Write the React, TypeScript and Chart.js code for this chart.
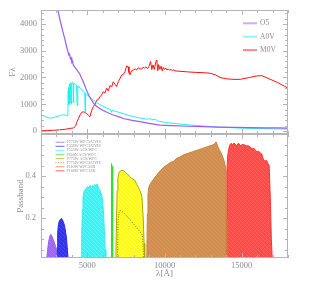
import React, { useEffect, useRef } from 'react';
import { Chart, registerables } from 'chart.js';
Chart.register(...registerables);

// ---------- Top panel: stellar spectra (wavelength in Å, flux) ----------
const waveO5 = [2000, 2300, 2600, 2900, 3000, 3100, 3250, 3400, 3550, 3700, 3800, 3850, 3900, 3950, 4000, 4050, 4100, 4200, 4300, 4400, 4500, 4620, 4740, 4870, 5000, 5120, 5250, 5380, 5500, 5700, 6000, 6300, 6680, 7000, 7400, 7900, 8400, 9000, 9700, 10500, 11500, 12500, 13500, 14500, 15500, 16500, 17300, 18000];
const fluxO5 = [12500, 9600, 7300, 5600, 5000, 4500, 4100, 3750, 3420, 3050, 2850, 2880, 2700, 2740, 2560, 2600, 2450, 2380, 2300, 2220, 2150, 1990, 1840, 1640, 1450, 1310, 1180, 1060, 970, 880, 780, 690, 600, 540, 460, 400, 350, 290, 225, 200, 180, 165, 150, 140, 130, 122, 116, 110];

const waveA0V = [2000, 2150, 2300, 2450, 2600, 2750, 2900, 3050, 3200, 3350, 3500, 3620, 3700, 3740, 3760, 3780, 3800, 3820, 3840, 3860, 3890, 3910, 3940, 3970, 3990, 4030, 4080, 4102, 4130, 4200, 4300, 4340, 4380, 4450, 4550, 4650, 4750, 4830, 4861, 4890, 4950, 5050, 5200, 5400, 5600, 5800, 6000, 6250, 6500, 6563, 6620, 6800, 7100, 7400, 7700, 8000, 8300, 8600, 8900, 9100, 9250, 9400, 9550, 9700, 9900, 10200, 10700, 11200, 12000, 12800, 13400, 14200, 15000, 16000, 17000, 18000];
const fluxA0V = [600, 570, 540, 500, 480, 500, 520, 545, 570, 595, 610, 590, 570, 590, 1500, 980, 1650, 1000, 1720, 1760, 1050, 1780, 1800, 1000, 1810, 1830, 1800, 1050, 1780, 1760, 1720, 950, 1690, 1650, 1600, 1540, 1480, 1430, 700, 1400, 1370, 1320, 1250, 1150, 1060, 990, 930, 860, 800, 700, 780, 740, 690, 640, 580, 540, 500, 470, 440, 460, 420, 440, 380, 360, 340, 310, 280, 250, 210, 175, 150, 130, 110, 95, 85, 75];

const waveM0V = [2000, 2400, 2800, 3200, 3600, 3900, 4100, 4200, 4260, 4310, 4420, 4530, 4640, 4740, 4850, 4960, 5080, 5170, 5280, 5390, 5500, 5610, 5720, 5820, 5930, 6030, 6140, 6250, 6360, 6470, 6580, 6680, 6790, 6900, 7010, 7120, 7230, 7340, 7440, 7550, 7650, 7700, 7760, 7870, 7980, 8100, 8200, 8300, 8400, 8500, 8600, 8700, 8800, 8900, 9000, 9100, 9180, 9250, 9350, 9420, 9500, 9560, 9620, 9700, 9780, 9850, 9920, 10000, 10080, 10160, 10250, 10330, 10420, 10500, 10600, 10680, 11000, 11500, 12000, 12500, 12950, 13300, 13600, 14000, 14500, 14900, 15500, 16000, 16300, 16700, 17300, 18000];
const fluxM0V = [10, 15, 30, 45, 70, 100, 115, 160, 220, 320, 460, 600, 700, 720, 690, 660, 580, 535, 760, 910, 1000, 1150, 1180, 1280, 1350, 1470, 1420, 1600, 1500, 1700, 1650, 1840, 1750, 1660, 1850, 1970, 2090, 2120, 2220, 2430, 2400, 2180, 2100, 2250, 2280, 2320, 2280, 2360, 2340, 2300, 2380, 2350, 2400, 2330, 2420, 2600, 2300, 2470, 2300, 2550, 2650, 2250, 2480, 2300, 2420, 2250, 2380, 2300, 2350, 2280, 2320, 2270, 2300, 2260, 2290, 2250, 2230, 2210, 2190, 2180, 2160, 2100, 2000, 1950, 1930, 1930, 2000, 2060, 2070, 1970, 1820, 1600];

// ---------- Bottom panel: filter passbands ----------
const waveF275W = [2300, 2380, 2430, 2500, 2560, 2630, 2700, 2780, 2860, 2940, 3000, 3040];
const passF275W = [0, 0.01, 0.05, 0.09, 0.11, 0.123, 0.115, 0.1, 0.085, 0.065, 0.04, 0];
const waveF336W = [3000, 3040, 3080, 3130, 3200, 3280, 3340, 3400, 3480, 3560, 3640, 3700, 3760];
const passF336W = [0, 0.06, 0.13, 0.17, 0.188, 0.196, 0.197, 0.19, 0.175, 0.15, 0.11, 0.06, 0];
const waveF555W = [4600, 4640, 4680, 4720, 4780, 4850, 4920, 5000, 5080, 5160, 5240, 5320, 5400, 5480, 5560, 5640, 5720, 5800, 5880, 5960, 6040, 6100, 6160, 6200];
const passF555W = [0, 0.12, 0.24, 0.3, 0.325, 0.335, 0.34, 0.35, 0.345, 0.355, 0.345, 0.355, 0.35, 0.36, 0.352, 0.362, 0.345, 0.335, 0.32, 0.3, 0.24, 0.15, 0.05, 0];
const waveF658N = [6540, 6570, 6590, 6610, 6640];
const passF658N = [0, 0.445, 0.45, 0.445, 0];
const waveF775W = [6850, 6890, 6930, 6980, 7050, 7150, 7250, 7370, 7480, 7600, 7720, 7840, 7960, 8080, 8200, 8320, 8440, 8540, 8620, 8680, 8720];
const passF775W = [0, 0.18, 0.33, 0.39, 0.415, 0.425, 0.428, 0.425, 0.415, 0.41, 0.4, 0.39, 0.385, 0.38, 0.36, 0.345, 0.325, 0.3, 0.2, 0.08, 0];
const waveF775WU = [6950, 7000, 7060, 7120, 7250, 7400, 7550, 7700, 7850, 8000, 8150, 8300, 8450, 8560, 8620, 8660];
const passF775WU = [0, 0.19, 0.228, 0.238, 0.232, 0.222, 0.21, 0.198, 0.185, 0.172, 0.158, 0.145, 0.13, 0.12, 0.06, 0];
const waveF110W = [8850, 8890, 8930, 8980, 9060, 9200, 9400, 9600, 9800, 10000, 10200, 10400, 10600, 10800, 11000, 11200, 11400, 11600, 11800, 12000, 12200, 12400, 12600, 12800, 13000, 13200, 13350, 13450, 13550, 13700, 13850, 13960, 14000, 14040];
const passF110W = [0, 0.22, 0.31, 0.345, 0.36, 0.375, 0.395, 0.415, 0.43, 0.445, 0.455, 0.465, 0.47, 0.485, 0.49, 0.5, 0.505, 0.51, 0.515, 0.52, 0.525, 0.53, 0.535, 0.54, 0.545, 0.55, 0.562, 0.54, 0.525, 0.505, 0.475, 0.44, 0.2, 0];
const waveF160W = [13960, 14000, 14040, 14100, 14180, 14250, 14330, 14420, 14500, 14580, 14660, 14740, 14820, 14900, 15000, 15100, 15200, 15300, 15400, 15500, 15600, 15700, 15800, 15900, 16000, 16100, 16200, 16300, 16400, 16500, 16600, 16700, 16780, 16850, 16920, 16980];
const passF160W = [0, 0.2, 0.42, 0.5, 0.535, 0.55, 0.556, 0.548, 0.557, 0.552, 0.54, 0.553, 0.555, 0.545, 0.548, 0.55, 0.548, 0.543, 0.545, 0.54, 0.535, 0.53, 0.532, 0.522, 0.515, 0.518, 0.51, 0.505, 0.48, 0.47, 0.475, 0.46, 0.45, 0.3, 0.1, 0];

const starNames = ['O5', 'A0V', 'M0V'];
const filterNames = ['F275W WFC3/UVIS', 'F336W WFC3/UVIS', 'F555W ACS/WFC', 'F658N ACS/WFC', 'F775W ACS/WFC', 'F775W WFC3/UVIS', 'F110W WFC3/IR', 'F160W WFC3/IR'];

const xTicks = [5000, 10000, 15000];
const yTicksTop = [0, 1000, 2000, 3000, 4000];
const yTicksBottom = [0.2, 0.4];

const FONT = 'Liberation Serif, DejaVu Serif, serif';
const TEXT = '#8c8c8c';
const FRAME = '#b4b4b4';

const pts = (xs: number[], ys: number[]) => xs.map((x, i) => ({ x, y: ys[i] }));

function hatch(base: string, line: string) {
  const c = document.createElement('canvas');
  c.width = 4; c.height = 4;
  const g = c.getContext('2d')!;
  g.fillStyle = base; g.fillRect(0, 0, 4, 4);
  g.strokeStyle = line; g.lineWidth = 0.8;
  g.beginPath(); g.moveTo(-1, -1); g.lineTo(5, 5); g.stroke();
  return g.createPattern(c, 'repeat');
}

const frameTicks = {
  id: 'frameTicks',
  afterDatasetsDraw(chart: any, _a: any, o: any) {
    const { ctx, chartArea: a, scales } = chart;
    ctx.save();
    ctx.strokeStyle = FRAME; ctx.lineWidth = 1;
    ctx.strokeRect(Math.round(a.left) + 0.5, Math.round(a.top) + 0.5, Math.round(a.width) - 1, Math.round(a.height) - 1);
    const run = (scale: any, minor: number, major: number, horiz: boolean) => {
      const i0 = Math.ceil(scale.min / minor - 1e-9);
      for (let i = i0; i * minor <= scale.max + 1e-9; i++) {
        const v = i * minor;
        const isMajor = Math.abs(v / major - Math.round(v / major)) < 1e-6;
        const len = isMajor ? 5 : 3;
        const p = Math.round(scale.getPixelForValue(v)) + 0.5;
        ctx.beginPath();
        if (horiz) {
          ctx.moveTo(p, a.bottom); ctx.lineTo(p, a.bottom - len);
          ctx.moveTo(p, a.top); ctx.lineTo(p, a.top + len);
        } else {
          ctx.moveTo(a.left, p); ctx.lineTo(a.left + len, p);
          ctx.moveTo(a.right, p); ctx.lineTo(a.right - len, p);
        }
        ctx.stroke();
      }
    };
    run(scales.x, o.xMinor, o.xMajor, true);
    run(scales.y, o.yMinor, o.yMajor, false);
    ctx.restore();
  },
};

const seriesKey = {
  id: 'seriesKey',
  afterDraw(chart: any, _a: any, o: any) {
    const ctx = chart.ctx;
    ctx.save();
    ctx.font = `${o.size}px ${FONT}`;
    ctx.textBaseline = 'middle';
    ctx.textAlign = 'left';
    chart.data.datasets.forEach((ds: any, i: number) => {
      const y = o.y + i * o.dy;
      ctx.globalAlpha = o.alpha;
      ctx.strokeStyle = ds.borderColor;
      ctx.lineWidth = o.lineWidth;
      ctx.setLineDash(ds.borderDash || []);
      ctx.beginPath(); ctx.moveTo(o.x, y); ctx.lineTo(o.x + o.len, y); ctx.stroke();
      ctx.globalAlpha = 1; ctx.setLineDash([]);
      ctx.fillStyle = TEXT;
      ctx.fillText(ds.label, o.x + o.len + o.gap, y);
    });
    ctx.restore();
  },
};

const tickFont = { family: FONT, size: 8.5 };
const titleFont = { family: FONT, size: 9 };

export default function App() {
  const topRef = useRef<HTMLCanvasElement>(null);
  const botRef = useRef<HTMLCanvasElement>(null);

  useEffect(() => {
    const common = { responsive: false, animation: false as const, devicePixelRatio: 1 };

    const top = new Chart(topRef.current!, {
      type: 'scatter',
      data: {
        datasets: [
          { label: starNames[0], data: pts(waveO5, fluxO5), borderColor: '#9a5cf4', borderWidth: 1.2 },
          { label: starNames[1], data: pts(waveA0V, fluxA0V), borderColor: '#1ff0f0', borderWidth: 1 },
          { label: starNames[2], data: pts(waveM0V, fluxM0V), borderColor: '#ff1010', borderWidth: 1 },
        ].map((d) => ({ ...d, showLine: true, pointRadius: 0, fill: false, tension: 0 })),
      },
      options: {
        ...common,
        layout: { padding: { left: 0, top: 10, right: 26, bottom: 157 } },
        plugins: {
          legend: { display: false },
          tooltip: { enabled: false },
          frameTicks: { xMinor: 1000, xMajor: 5000, yMinor: 200, yMajor: 1000 },
          seriesKey: { x: 243, y: 23.3, dy: 13.4, len: 14, gap: 3, size: 7.5, alpha: 0.5, lineWidth: 2 },
        } as any,
        scales: {
          x: { type: 'linear', min: 2000, max: 18000, display: false },
          y: {
            type: 'linear', min: -110, max: 4520,
            afterFit: (s: any) => { s.width = 41; },
            afterBuildTicks: (s: any) => { s.ticks = yTicksTop.map((v) => ({ value: v })); },
            grid: { display: false, drawTicks: false },
            border: { display: false },
            ticks: { font: tickFont, color: TEXT, padding: 4, callback: (v: any) => String(v) },
            title: { display: true, text: 'Fλ', font: titleFont, color: TEXT, padding: { top: 7.5, bottom: 0 } },
          },
        },
      },
      plugins: [frameTicks, seriesKey],
    });

    const fills = {
      p: hatch('rgba(150,90,240,0.92)', 'rgba(175,125,250,0.92)'),
      b: hatch('rgba(40,40,235,0.95)', 'rgba(80,80,245,0.95)'),
      c: hatch('rgba(50,240,240,0.95)', 'rgba(110,250,250,0.95)'),
      y: hatch('rgba(255,255,0,1)', 'rgba(255,255,90,1)'),
      o: hatch('rgba(206,138,72,0.96)', 'rgba(218,156,94,0.96)'),
      r: hatch('rgba(255,64,64,0.95)', 'rgba(255,105,105,0.95)'),
    };

    const bot = new Chart(botRef.current!, {
      type: 'scatter',
      data: {
        datasets: [
          { label: filterNames[0], data: pts(waveF275W, passF275W), borderColor: '#9a5cf0', backgroundColor: fills.p, fill: 'origin' },
          { label: filterNames[1], data: pts(waveF336W, passF336W), borderColor: '#2a2ae8', backgroundColor: fills.b, fill: 'origin' },
          { label: filterNames[2], data: pts(waveF555W, passF555W), borderColor: '#30eeee', backgroundColor: fills.c, fill: 'origin' },
          { label: filterNames[3], data: pts(waveF658N, passF658N), borderColor: '#33dd33', backgroundColor: '#33dd33', fill: 'origin', borderWidth: 1.5 },
          { label: filterNames[4], data: pts(waveF775W, passF775W), borderColor: '#a8a800', backgroundColor: fills.y, fill: 'origin' },
          { label: filterNames[5], data: pts(waveF775WU, passF775WU), borderColor: '#7a7a00', borderDash: [1, 1.5], fill: false, order: -1 },
          { label: filterNames[6], data: pts(waveF110W, passF110W), borderColor: '#c8803c', backgroundColor: fills.o, fill: 'origin' },
          { label: filterNames[7], data: pts(waveF160W, passF160W), borderColor: '#ff3030', backgroundColor: fills.r, fill: 'origin' },
        ].map((d: any) => ({ borderWidth: 1, ...d, showLine: true, pointRadius: 0, tension: 0 })),
      },
      options: {
        ...common,
        layout: { padding: { left: 0, top: 134, right: 26, bottom: 0 } },
        plugins: {
          legend: { display: false },
          tooltip: { enabled: false },
          filler: { propagate: false },
          frameTicks: { xMinor: 1000, xMajor: 5000, yMinor: 0.05, yMajor: 0.2 },
          seriesKey: { x: 55.5, y: 142.3, dy: 4.07, len: 9, gap: 2, size: 4, alpha: 0.6, lineWidth: 1.2 },
        } as any,
        scales: {
          x: {
            type: 'linear', min: 2000, max: 18000,
            afterFit: (s: any) => { s.height = 33; },
            afterBuildTicks: (s: any) => { s.ticks = xTicks.map((v) => ({ value: v })); },
            grid: { display: false, drawTicks: false },
            border: { display: false },
            ticks: { font: tickFont, color: TEXT, padding: 3, maxRotation: 0, callback: (v: any) => String(v) },
            title: { display: true, text: 'λ[Å]', font: titleFont, color: TEXT, padding: { top: 0, bottom: 11.5 } },
          },
          y: {
            type: 'linear', min: 0.01, max: 0.6,
            afterFit: (s: any) => { s.width = 41; },
            afterBuildTicks: (s: any) => { s.ticks = yTicksBottom.map((v) => ({ value: v })); },
            grid: { display: false, drawTicks: false },
            border: { display: false },
            ticks: { font: tickFont, color: TEXT, padding: 5, callback: (v: any) => String(v) },
            title: { display: true, text: 'Passband', font: titleFont, color: TEXT, padding: { top: 15, bottom: 0 } },
          },
        },
      },
      plugins: [frameTicks, seriesKey],
    });

    return () => { top.destroy(); bot.destroy(); };
  }, []);

  const cv: React.CSSProperties = { position: 'absolute', left: 0, top: 0 };
  return (
    <div style={{ position: 'fixed', left: 0, top: 0, width: 314, height: 291, background: '#fff' }}>
      <canvas ref={botRef} width={314} height={291} style={cv} />
      <canvas ref={topRef} width={314} height={291} style={cv} />
    </div>
  );
}
